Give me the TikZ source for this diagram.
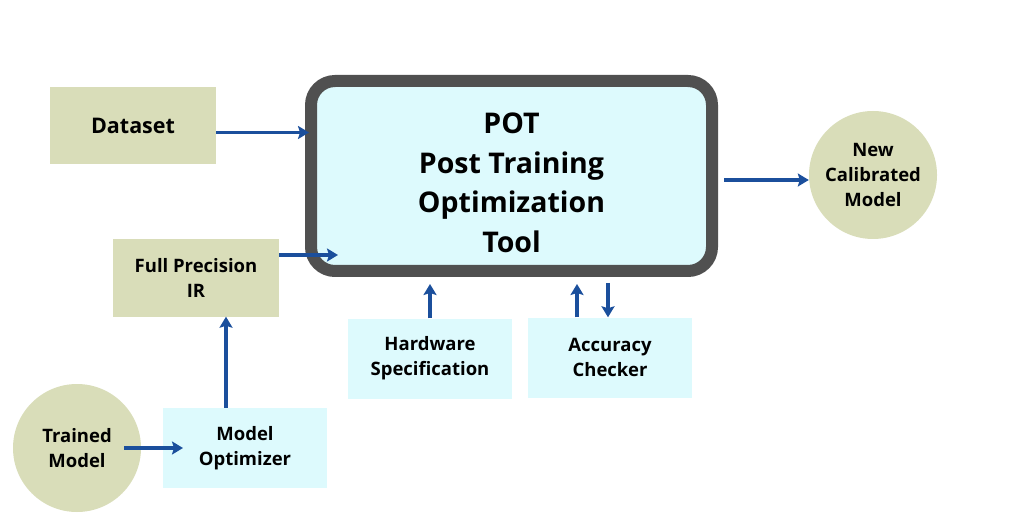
\documentclass[tikz,border=0pt]{standalone}
\usepackage{fontspec}
\setmainfont{Open Sans}
\usepackage{tikz}
\usetikzlibrary{positioning,arrows.meta,shapes.geometric}

\definecolor{olivefill}{HTML}{D9DDB9}
\definecolor{cyanfill}{HTML}{DDFAFD}
\definecolor{rimgray}{HTML}{505050}
\definecolor{arrblue}{HTML}{1B4F9C}

\begin{document}
\begin{tikzpicture}[x=1pt, y=-1pt,
  inbox/.style={fill=olivefill, minimum width=166pt, minimum height=77pt,
                font=\fontsize{18.5}{25}\selectfont\bfseries, align=center},
  sidebox/.style={fill=cyanfill, minimum width=164pt, minimum height=80pt,
                  font=\fontsize{18.5}{25}\selectfont\bfseries, align=center},
  blob/.style={circle, fill=olivefill, minimum size=128pt, inner sep=0pt,
               font=\fontsize{18.5}{25}\selectfont\bfseries, align=center},
  arr/.style={-{Stealth[length=11pt, width=13pt, inset=2pt]}, line width=3.2pt, draw=arrblue}
]
  \useasboundingbox (0,0) rectangle (1024,526);
  % the tool itself
  \node[draw=rimgray, line width=12pt, rounded corners=24pt, fill=cyanfill,
        minimum width=401pt, minimum height=190pt] (pot) at (511.5,176) {};
  \node[align=center, font=\fontsize{28.5}{39.5}\selectfont\bfseries]
        (pottitle) at ([yshift=-7pt]pot.center) {POT\\Post Training\\Optimization\\Tool};
  % inputs
  \node[inbox, font=\fontsize{21.5}{25}\selectfont\bfseries] (data) at (133,125.5) {Dataset};
  \node[inbox] (fpir) at (196,278) {Full Precision\\IR};
  \node[sidebox] (hw)  at (430,358.5) {Hardware\\Specification};
  \node[sidebox] (acc) at (610,357.5) {Accuracy\\Checker};
  \node[sidebox] (mo)  at (245,448) {Model\\Optimizer};
  \node[blob] (trained) at (77,448) {Trained\\Model};
  \node[blob] (newm)    at (873,175) {New\\Calibrated\\Model};
  % free ends
  \coordinate (fpin) at (338,255);
  \coordinate (moin) at (183,448);
  \draw[arr, shorten >=-4pt] ([yshift=-7pt]data.east) -- ([yshift=-7pt]data.east -| pot.west);
  \draw[arr] (fpir.east |- fpin) -- (fpin);
  \draw[arr, shorten >=7pt] (hw.north) -- (hw.north |- pot.south);
  \draw[arr, shorten >=7pt] ([xshift=-33pt]acc.north) -- ([xshift=-33pt]acc.north |- pot.south);
  \draw[arr, shorten <=6pt] ([xshift=-2pt]acc.north |- pot.south) -- ([xshift=-2pt]acc.north);
  \draw[arr] ([xshift=-19pt]mo.north) -- ([xshift=-19pt]mo.north |- fpir.south);
  \draw[arr] (trained.center -| 124,0) -- (moin);
  \draw[arr, shorten <=6pt] ([yshift=-4pt]pot.east) -- ([yshift=-4pt]pot.east -| newm.west);
\end{tikzpicture}
\end{document}
